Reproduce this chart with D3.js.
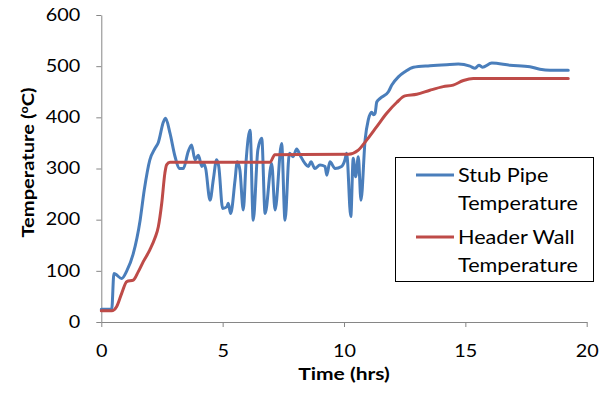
<!DOCTYPE html>
<html>
<head>
<meta charset="utf-8">
<script src="https://cdn.jsdelivr.net/npm/d3@7"></script>
<style>
  html, body { margin: 0; padding: 0; background: #fff; }
  svg { display: block; }
  text { font-family: Lato, "Open Sans", sans-serif; fill: #000; }
</style>
</head>
<body>
<svg id="chart" width="602" height="397"></svg>
<script>
// ---- Data ----
const stubTime = [0, 0.43, 0.52, 0.6, 0.84, 1.05, 1.32, 1.6, 1.77, 2.0, 2.21, 2.35, 2.56, 2.65, 2.83, 3.04, 3.21, 3.38, 3.58, 3.72, 3.86, 4.0, 4.14, 4.22, 4.3, 4.48, 4.62, 4.75, 4.84, 5.0, 5.17, 5.23, 5.33, 5.51, 5.6, 5.71, 5.85, 5.97, 6.13, 6.26, 6.45, 6.61, 6.75, 7.02, 7.16, 7.43, 7.57, 7.75, 7.9, 8.05, 8.19, 8.39, 8.53, 8.64, 8.8, 9.01, 9.22, 9.29, 9.42, 9.63, 9.9, 10.04, 10.11, 10.28, 10.38, 10.48, 10.59, 10.7, 10.87, 11.0, 11.14, 11.22, 11.28, 11.35, 11.49, 11.83, 11.97, 12.24, 12.51, 12.86, 13.54, 14.23, 14.71, 15.19, 15.4, 15.56, 15.7, 16.09, 16.84, 17.66, 18.07, 18.49, 19.24];
const stubTemp = [25, 25, 95, 93, 85, 100, 134, 199, 258, 317, 339, 351, 391, 398, 369, 323, 300, 300, 333, 346, 317, 326, 304, 310, 300, 238, 280, 317, 304, 222, 225, 232, 212, 277, 313, 297, 219, 317, 375, 199, 336, 359, 212, 310, 219, 349, 199, 330, 323, 338, 326, 310, 304, 313, 300, 307, 304, 287, 313, 300, 304, 317, 330, 206, 320, 284, 323, 238, 356, 395, 410, 405, 408, 430, 437, 450, 463, 479, 489, 498, 501, 503, 504, 500, 496, 502, 498, 506, 502, 499, 494, 492, 492];

const headerTime = [0, 0.43, 0.63, 0.84, 1.05, 1.32, 1.52, 1.73, 2.0, 2.21, 2.35, 2.49, 2.62, 2.69, 2.83, 6.95, 7.15, 10.18, 10.59, 10.94, 11.35, 11.76, 12.17, 12.51, 13.0, 13.54, 14.09, 14.5, 14.92, 15.33, 19.24];
const headerTemp = [22, 22, 30, 56, 79, 82, 98, 118, 141, 164, 186, 232, 291, 307, 312, 312, 327, 328, 336, 356, 382, 408, 429, 442, 445, 453, 460, 463, 472, 476, 476];

const xTicks = [0, 5, 10, 15, 20];
const yTicks = [0, 100, 200, 300, 400, 500, 600];
const seriesNames = [["Stub Pipe", "Temperature"], ["Header Wall", "Temperature"]];
const seriesColors = ["#4a7ebb", "#be4b48"];
const xTitle = "Time (hrs)";

// ---- Chart ----
const svg = d3.select("#chart");
const x = d3.scaleLinear().domain([0, 20]).range([101.3, 586.7]);
const y = d3.scaleLinear().domain([0, 600]).range([322, 15]);
const axisColor = "#868686";
const sx = 1.2; // horizontal text stretch to mimic the original face

const xAxis = svg.append("g")
  .attr("transform", "translate(0,322)")
  .call(d3.axisBottom(x).tickValues(xTicks).tickSize(5).tickSizeOuter(0).tickPadding(18).tickFormat(d3.format("d")));
const yAxis = svg.append("g")
  .attr("transform", "translate(101.3,0)")
  .call(d3.axisLeft(y).tickValues(yTicks).tickSize(5).tickSizeOuter(0).tickPadding(16).tickFormat(d3.format("d")));
[xAxis, yAxis].forEach(g => {
  g.selectAll("path, line").attr("stroke", axisColor).attr("stroke-width", 1);
  g.selectAll("text").attr("font-size", 16.5).attr("font-family", "Lato, sans-serif").attr("fill", "#000")
    .attr("transform", `scale(${sx},1)`);
});
yAxis.selectAll("text").attr("x", -21 / sx);

const series = [
  stubTime.map((t, i) => [t, stubTemp[i]]),
  headerTime.map((t, i) => [t, headerTemp[i]])
];
const line = d3.line().x(d => x(d[0])).y(d => y(d[1])).curve(d3.curveMonotoneX);

series.forEach((s, i) => {
  svg.append("path").datum(s)
    .attr("d", line).attr("fill", "none").attr("stroke", seriesColors[i])
    .attr("stroke-width", 3).attr("stroke-linejoin", "round").attr("stroke-linecap", "round");
});

// Axis titles
svg.append("text")
  .attr("transform", `translate(344,380) scale(${sx},1)`)
  .attr("text-anchor", "middle").attr("font-size", 17.5).attr("font-weight", "bold")
  .text(xTitle);

const yt = svg.append("text")
  .attr("transform", "translate(34,162.5) rotate(-90) scale(1.15,1)")
  .attr("text-anchor", "middle").attr("font-size", 17.5).attr("font-weight", "bold");
yt.append("tspan").text("Temperature (");
yt.append("tspan").attr("font-size", 11).attr("dy", -6).text("o");
yt.append("tspan").attr("dy", 6).text("C)");

// Legend
const lg = svg.append("g");
lg.append("rect").attr("x", 395.5).attr("y", 157.5).attr("width", 198).attr("height", 124)
  .attr("fill", "#fff").attr("stroke", "#000").attr("stroke-width", 1);
const legendRows = [175, 237];
seriesNames.forEach((nm, i) => {
  const ly = legendRows[i];
  lg.append("line").attr("x1", 416).attr("x2", 454).attr("y1", ly).attr("y2", ly)
    .attr("stroke", seriesColors[i]).attr("stroke-width", 3);
  const t = lg.append("text").attr("transform", `translate(458,${ly + 7}) scale(1.17,1)`).attr("font-size", 18.5);
  t.append("tspan").attr("x", 0).text(nm[0]);
  t.append("tspan").attr("x", 0).attr("dy", 28).text(nm[1]);
});
</script>
</body>
</html>
